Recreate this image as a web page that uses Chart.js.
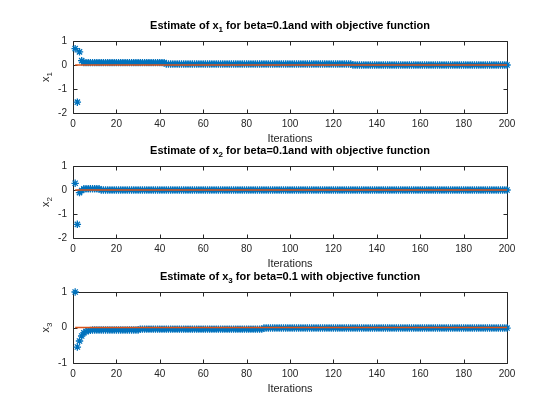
<!DOCTYPE html>
<html>
<head>
<meta charset="utf-8">
<script src="https://cdn.jsdelivr.net/npm/chart.js@4.4.1/dist/chart.umd.min.js"></script>
<style>
  html, body { margin: 0; padding: 0; background: #fff; }
  #wrap { position: relative; width: 560px; height: 420px; }
  #wrap canvas { position: absolute; left: 0; top: 0; }
</style>
</head>
<body>
<div id="wrap">
  <canvas id="c1" width="560" height="420"></canvas>
  <canvas id="c2" width="560" height="420"></canvas>
  <canvas id="c3" width="560" height="420"></canvas>
</div>
<script>
// values, as runs of [value, how many iterations]
const x1Runs = [[0.68, 1], [-1.55, 1], [0.55, 1], [0.18, 1], [0.10, 38], [0.04, 86], [0.0, 72]];
const x2Runs = [[0.28, 1], [-1.43, 1], [-0.11, 1], [-0.02, 1], [0.05, 8], [0.0, 188]];
const x3Runs = [[1.0, 1], [-0.55, 1], [-0.38, 1], [-0.24, 1], [-0.15, 1], [-0.11, 1], [-0.09, 1],
                [-0.08, 1], [-0.07, 22], [-0.045, 57], [-0.015, 113]];
const trueValues = [0, 0, 0];
const titles = [
  ["Estimate of x", "1", " for beta=0.1and with objective function"],
  ["Estimate of x", "2", " for beta=0.1and with objective function"],
  ["Estimate of x", "3", " for beta=0.1 with objective function"]
];
const yLabels = [["x", "1"], ["x", "2"], ["x", "3"]];
const yRanges = [[-2, 1], [-2, 1], [-1, 1]];
const xTicksMax = 200;

const FONT = '"Liberation Sans", Arial, Helvetica, sans-serif';
const AXIS = '#262626';

function expand(runs) {
    const out = [];
    runs.forEach(([v, n]) => { for (let i = 0; i < n; i++) out.push(v); });
    return out;
}

function drawSub(ctx, parts, size, bold) {
    const w = bold ? 'bold ' : '';
    const mainFont = w + size + 'px ' + FONT;
    const subFont = w + Math.round(size * 0.75) + 'px ' + FONT;
    ctx.font = mainFont;
    const w0 = ctx.measureText(parts[0]).width;
    const w2 = parts[2] ? ctx.measureText(parts[2]).width : 0;
    ctx.font = subFont;
    const w1 = ctx.measureText(parts[1]).width;
    let x = -(w0 + w1 + w2) / 2;
    ctx.textAlign = 'left';
    ctx.textBaseline = 'middle';
    ctx.font = mainFont;
    ctx.fillText(parts[0], x, 0);
    x += w0;
    ctx.font = subFont;
    ctx.fillText(parts[1], x, size * 0.38);
    x += w1;
    if (parts[2]) {
        ctx.font = mainFont;
        ctx.fillText(parts[2], x, 0);
    }
}

const matlabAxes = {
    id: 'matlabAxes',
    beforeDatasetsDraw(chart) {
        const { ctx, chartArea: a, scales: { x, y } } = chart;
        ctx.save();
        ctx.strokeStyle = AXIS;
        ctx.lineWidth = 1;
        ctx.beginPath();
        const L = Math.round(a.left) + 0.5, R = Math.round(a.right) + 0.5;
        const T = Math.round(a.top) + 0.5, B = Math.round(a.bottom) + 0.5;
        ctx.rect(L, T, R - L, B - T);
        x.ticks.forEach(t => {
            const px = Math.round(x.getPixelForValue(t.value)) + 0.5;
            ctx.moveTo(px, B); ctx.lineTo(px, B - 4);
            ctx.moveTo(px, T); ctx.lineTo(px, T + 4);
        });
        y.ticks.forEach(t => {
            const py = Math.round(y.getPixelForValue(t.value)) + 0.5;
            ctx.moveTo(L, py); ctx.lineTo(L + 4, py);
            ctx.moveTo(R, py); ctx.lineTo(R - 4, py);
        });
        ctx.stroke();
        ctx.restore();
    },
    afterDraw(chart, args, opts) {
        const { ctx, chartArea: a } = chart;
        ctx.save();
        ctx.fillStyle = '#000';
        ctx.translate((a.left + a.right) / 2, a.top - 15);
        drawSub(ctx, opts.title, 11, true);
        ctx.restore();

        ctx.save();
        ctx.fillStyle = AXIS;
        ctx.translate(46, (a.top + a.bottom) / 2);
        ctx.rotate(-Math.PI / 2);
        drawSub(ctx, opts.ylabel, 11, false);
        ctx.restore();
    }
};

const iterations = [];
for (let i = 1; i <= xTicksMax; i++) iterations.push(i);

function makeChart(id, k, runs, top, bottom) {
    const est = expand(runs);
    const xAxisHeight = 33;
    new Chart(document.getElementById(id), {
        type: 'line',
        data: {
            datasets: [
                {
                    data: iterations.map((it, i) => ({ x: it, y: est[i] })),
                    showLine: false,
                    pointStyle: 'star',
                    pointRadius: 3.7,
                    pointBorderWidth: 1.3,
                    borderColor: '#0072BD',
                    backgroundColor: '#0072BD',
                    clip: false,
                    order: 2
                },
                {
                    data: iterations.map(it => ({ x: it, y: trueValues[k] })),
                    borderColor: '#D95319',
                    borderWidth: 1.5,
                    pointRadius: 0,
                    order: 1
                }
            ]
        },
        options: {
            responsive: false,
            animation: false,
            events: [],
            layout: { padding: { left: 33, right: 53, top: top, bottom: 420 - bottom - xAxisHeight } },
            plugins: {
                legend: { display: false },
                tooltip: { enabled: false },
                matlabAxes: { title: titles[k], ylabel: yLabels[k] }
            },
            scales: {
                x: {
                    type: 'linear',
                    min: 0,
                    max: xTicksMax,
                    afterFit: s => { s.height = xAxisHeight; },
                    grid: { display: false, drawTicks: false },
                    border: { display: false },
                    ticks: { stepSize: 20, maxRotation: 0, padding: 5, color: AXIS, font: { family: FONT, size: 10 } },
                    title: { display: true, text: 'Iterations', color: AXIS, padding: 0, font: { family: FONT, size: 11 } }
                },
                y: {
                    min: yRanges[k][0],
                    max: yRanges[k][1],
                    afterFit: s => { s.width = 40; },
                    grid: { display: false, drawTicks: false },
                    border: { display: false },
                    ticks: { stepSize: 1, padding: 6, color: AXIS, font: { family: FONT, size: 10 } }
                }
            }
        },
        plugins: [matlabAxes]
    });
}

makeChart('c1', 0, x1Runs, 41, 113);
makeChart('c2', 1, x2Runs, 166, 238);
makeChart('c3', 2, x3Runs, 292, 363);
</script>
</body>
</html>
